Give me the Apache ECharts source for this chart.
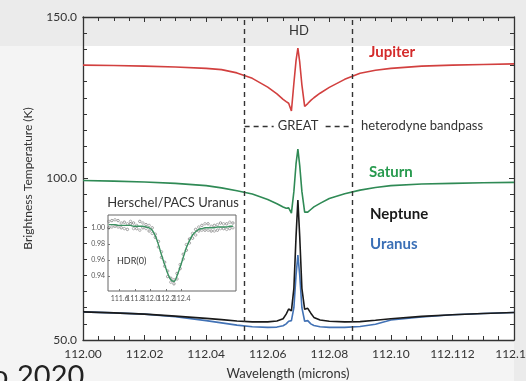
<!DOCTYPE html>
<html>
<head>
<meta charset="utf-8">
<script src="https://cdn.jsdelivr.net/npm/echarts@6/dist/echarts.min.js"></script>
<style>
  html, body { margin: 0; padding: 0; background: #f4f4f4; }
  #main { width: 526px; height: 381px; }
</style>
</head>
<body>
<div id="main"></div>
<script>
// wavelength grid (microns), shared by the four planet spectra
var wave = [112.000, 112.010, 112.020, 112.030, 112.040, 112.045, 112.050, 112.055, 112.060, 112.063,
  112.065, 112.0660, 112.0668, 112.0677, 112.0685, 112.0692, 112.0698, 112.0704, 112.0711, 112.0720,
  112.0730, 112.0740, 112.0750, 112.077, 112.080, 112.085, 112.090, 112.095, 112.100, 112.110,
  112.120, 112.130, 112.140];

var jupiter = [135.1, 135.0, 134.8, 134.5, 134.1, 133.7, 132.7, 131.0, 128.3, 126.2,
  124.5, 123.8, 123.3, 120.9, 129.5, 136.5, 140.4, 136.0, 129.0, 122.3,
  123.2, 124.2, 125.0, 126.4, 128.2, 130.7, 132.6, 133.5, 134.1, 134.8,
  135.1, 135.3, 135.5];

var saturn = [99.4, 99.2, 98.9, 98.5, 97.8, 97.1, 96.2, 95.2, 93.5, 92.2,
  91.2, 90.8, 90.9, 89.3, 96.0, 104.5, 109.1, 104.0, 96.0, 89.6,
  89.6, 90.4, 91.2, 92.3, 93.8, 95.3, 96.4, 97.2, 97.8, 98.3,
  98.5, 98.7, 98.8];

var neptune = [58.7, 58.4, 58.0, 57.4, 56.7, 56.3, 55.9, 55.6, 55.6, 55.9,
  56.6, 58.0, 59.6, 59.0, 66.0, 82.0, 93.3, 82.0, 66.0, 59.5,
  59.8, 58.3, 57.0, 56.2, 55.8, 55.6, 55.7, 56.1, 56.6, 57.3,
  57.8, 58.2, 58.5];

var uranus = [58.7, 58.4, 58.0, 57.2, 56.0, 55.3, 54.6, 54.1, 53.9, 54.0,
  54.4, 55.0, 55.8, 56.0, 60.0, 70.0, 76.3, 70.0, 60.0, 55.8,
  56.0, 55.0, 54.5, 54.1, 53.9, 53.9, 54.2, 54.9, 56.2, 57.1,
  57.8, 58.2, 58.5];

var xTickLabels = ['112.00', '112.02', '112.04', '112.06', '112.08', '112.10', '112.112', '112.14'];
var bandEdges = [112.0525, 112.0875];
var bandLevel = 116.3;

// inset: Herschel/PACS Uranus line-to-continuum ratio
var insetWave = [111.46, 111.50, 111.54, 111.58, 111.62, 111.66, 111.70, 111.74, 111.78, 111.82,
  111.86, 111.90, 111.94, 111.98, 112.02, 112.06, 112.10, 112.14, 112.18, 112.22,
  112.26, 112.30, 112.34, 112.38, 112.42, 112.46, 112.50, 112.54, 112.58, 112.62,
  112.66, 112.70, 112.74, 112.78, 112.82, 112.86, 112.90, 112.94, 112.98, 113.02, 113.06];
var insetFit = [1.004, 1.004, 1.004, 1.003, 1.003, 1.003, 1.003, 1.003, 1.002, 1.002,
  1.002, 1.002, 1.001, 1.000, 0.997, 0.990, 0.979, 0.966, 0.954, 0.943,
  0.935, 0.933, 0.940, 0.951, 0.963, 0.975, 0.984, 0.991, 0.995, 0.998,
  0.999, 1.000, 1.000, 1.000, 1.000, 1.001, 1.001, 1.001, 1.001, 1.002, 1.002];
var insetObsA = [1.008, 1.001, 1.010, 1.001, 1.006, 0.999, 1.005, 1.008, 0.999, 1.003,
  0.997, 1.006, 0.999, 1.003, 0.993, 0.992, 0.976, 0.970, 0.952, 0.946,
  0.932, 0.935, 0.936, 0.954, 0.961, 0.979, 0.981, 0.993, 0.991, 1.001,
  0.997, 1.005, 0.997, 1.002, 0.996, 1.004, 0.999, 1.005, 0.998, 1.007, 1.000];
var insetObsB = [1.000, 1.009, 1.002, 1.009, 1.000, 1.007, 0.998, 1.005, 1.006, 0.999,
  1.008, 1.000, 1.004, 0.996, 1.000, 0.988, 0.983, 0.963, 0.957, 0.939,
  0.937, 0.930, 0.943, 0.949, 0.967, 0.972, 0.986, 0.987, 0.998, 0.996,
  1.003, 0.997, 1.005, 0.996, 1.003, 0.997, 1.006, 0.999, 1.005, 0.999, 1.006];
var insetXTicks = [111.6, 111.8, 112.0, 112.2, 112.4];
var insetYTicks = [0.94, 0.96, 0.98, 1.00];

var FONT = 'Lato';
var NARROW = "'Liberation Sans Narrow', 'Arial Narrow', Lato";

function pairs(xs, ys) {
  return xs.map(function (x, i) { return [x, ys[i]]; });
}

var myChart = echarts.init(document.getElementById('main'));

var frameAxisX = {
  type: 'value', min: 112.00, max: 112.14, interval: 0.02, gridIndex: 0,
  axisLine: { show: true, lineStyle: { color: '#333', width: 1.3 } },
  axisTick: { show: true, inside: true, length: 5, lineStyle: { color: '#333' } },
  minorTick: { show: true, splitNumber: 4, length: 4, lineStyle: { color: '#333' } },
  splitLine: { show: false }
};
var frameAxisY = {
  type: 'value', min: 50, max: 150, interval: 50, gridIndex: 0,
  axisLine: { show: true, lineStyle: { color: '#333', width: 1.3 } },
  axisTick: { show: true, inside: true, length: 5, lineStyle: { color: '#333' } },
  minorTick: { show: true, splitNumber: 10, length: 4, lineStyle: { color: '#333' } },
  splitLine: { show: false }
};

function lineSeries(name, ys, color) {
  return {
    name: name, type: 'line', xAxisIndex: 0, yAxisIndex: 0,
    data: pairs(wave, ys), showSymbol: false, smooth: false,
    lineStyle: { color: color, width: 1.6 }
  };
}

var jupiterSeries = lineSeries('Jupiter', jupiter, '#d2403f');
jupiterSeries.markLine = {
  silent: true, symbol: 'none', precision: 4, label: { show: false },
  lineStyle: { color: '#333', width: 1.4, type: [5, 4] },
  data: [
    { xAxis: bandEdges[0] },
    { xAxis: bandEdges[1] },
    [{ coord: [bandEdges[0], bandLevel] }, { coord: [bandEdges[1], bandLevel] }]
  ]
};

var option = {
  animation: false,
  backgroundColor: '#f4f4f4',
  textStyle: { fontFamily: FONT },
  grid: [
    { left: 83, right: 12, top: 17, bottom: 41, show: false, outerBoundsMode: 'none', containLabel: false },
    { left: 108, top: 215, width: 128, height: 76, show: true, backgroundColor: '#fff', borderColor: '#666', borderWidth: 1, outerBoundsMode: 'none', containLabel: false }
  ],
  xAxis: [
    Object.assign({}, frameAxisX, {
      position: 'bottom',
      axisLabel: {
        show: true, color: '#333', fontSize: 12, fontFamily: FONT, margin: 8,
        formatter: function (v) {
          var i = Math.round((v - 112) / 0.02);
          return xTickLabels[i] || '';
        }
      }
    }),
    Object.assign({}, frameAxisX, { position: 'top', axisLabel: { show: false } }),
    {
      type: 'value', gridIndex: 1, min: 111.45, max: 113.10,
      axisLine: { show: false }, splitLine: { show: false },
      axisTick: { show: true, inside: true, length: 2, customValues: insetXTicks, lineStyle: { color: '#777' } },
      // labels drawn below as graphic text so none are auto-hidden
      axisLabel: { show: false }
    }
  ],
  yAxis: [
    Object.assign({}, frameAxisY, {
      position: 'left',
      name: 'Brightness Temperature (K)', nameLocation: 'middle', nameGap: 49,
      nameTextStyle: { color: '#333', fontSize: 12, fontFamily: FONT },
      axisLabel: {
        show: true, color: '#333', fontSize: 12, fontFamily: FONT, margin: 6,
        formatter: function (v) { return v.toFixed(1); }
      }
    }),
    Object.assign({}, frameAxisY, { position: 'right', axisLabel: { show: false } }),
    {
      type: 'value', gridIndex: 1, min: 0.921, max: 1.016,
      axisLine: { show: false }, splitLine: { show: false },
      axisTick: { show: true, inside: true, length: 2, customValues: insetYTicks, lineStyle: { color: '#777' } },
      axisLabel: {
        show: true, customValues: insetYTicks, color: '#555', fontSize: 7, fontFamily: NARROW, margin: 3,
        formatter: function (v) { return v.toFixed(2); }
      }
    }
  ],
  series: [
    lineSeries('Uranus', uranus, '#4272b5'),
    lineSeries('Neptune', neptune, '#1a1a1a'),
    lineSeries('Saturn', saturn, '#2f8a55'),
    jupiterSeries,
    {
      name: 'PACS A', type: 'scatter', xAxisIndex: 2, yAxisIndex: 2,
      data: pairs(insetWave, insetObsA), symbolSize: 2.5,
      itemStyle: { color: 'rgba(0,0,0,0)', borderColor: '#7a7a7a', borderWidth: 0.7 }
    },
    {
      name: 'PACS B', type: 'scatter', xAxisIndex: 2, yAxisIndex: 2,
      data: pairs(insetWave, insetObsB), symbolSize: 2.5,
      itemStyle: { color: 'rgba(0,0,0,0)', borderColor: '#5a5a5a', borderWidth: 0.7 }
    },
    {
      name: 'PACS fit', type: 'line', xAxisIndex: 2, yAxisIndex: 2,
      data: pairs(insetWave, insetFit), showSymbol: false, smooth: 0.3,
      lineStyle: { color: '#3a9060', width: 1.4 }
    }
  ],
  graphic: [
    { type: 'rect', z: -10, shape: { x: 0, y: 0, width: 526, height: 46 }, style: { fill: '#ebebeb' } },
    { type: 'rect', z: -10, shape: { x: 514, y: 46, width: 12, height: 335 }, style: { fill: '#ebebeb' } },
    { type: 'rect', z: -10, shape: { x: 83, y: 46, width: 431, height: 294 }, style: { fill: '#ffffff' } },
    { type: 'text', z: 100, x: 299, y: 31, style: { text: 'HD', fill: '#333', font: '13px ' + FONT, textAlign: 'center', textVerticalAlign: 'middle' } },
    { type: 'text', z: 100, x: 298, y: 126, style: { text: 'GREAT', fill: '#333', font: '13px ' + FONT, textAlign: 'center', textVerticalAlign: 'middle', backgroundColor: '#fff', padding: [1, 4] } },
    { type: 'text', z: 100, x: 359, y: 126, style: { text: 'heterodyne bandpass', fill: '#333', font: '13px ' + FONT, textAlign: 'left', textVerticalAlign: 'middle', backgroundColor: '#fff', padding: [1, 2] } },
    { type: 'text', z: 100, x: 369, y: 52, style: { text: 'Jupiter', fill: '#d42b2b', font: 'bold 15px ' + FONT, textAlign: 'left', textVerticalAlign: 'middle' } },
    { type: 'text', z: 100, x: 369, y: 172, style: { text: 'Saturn', fill: '#279a4e', font: 'bold 15px ' + FONT, textAlign: 'left', textVerticalAlign: 'middle' } },
    { type: 'text', z: 100, x: 370, y: 214, style: { text: 'Neptune', fill: '#1a1a1a', font: 'bold 15px ' + FONT, textAlign: 'left', textVerticalAlign: 'middle' } },
    { type: 'text', z: 100, x: 370, y: 244, style: { text: 'Uranus', fill: '#3a6fb6', font: 'bold 15px ' + FONT, textAlign: 'left', textVerticalAlign: 'middle' } },
    { type: 'text', z: 100, x: 173, y: 203, style: { text: 'Herschel/PACS Uranus', fill: '#333', font: '13px ' + FONT, textAlign: 'center', textVerticalAlign: 'middle' } },
    { type: 'text', z: 100, x: 117, y: 261, style: { text: 'HDR(0)', fill: '#333', font: '9px ' + FONT, textAlign: 'left', textVerticalAlign: 'middle' } },
    { type: 'text', z: 100, x: 288, y: 374, style: { text: 'Wavelength (microns)', fill: '#333', font: '13px ' + FONT, textAlign: 'center', textVerticalAlign: 'middle' } },
    { type: 'text', z: 100, x: -8, y: 362, style: { text: 'o', fill: '#222', font: '29px ' + FONT, textAlign: 'left', textVerticalAlign: 'top' } },
    { type: 'text', z: 100, x: 17, y: 362, style: { text: '2020', fill: '#222', font: '29px ' + FONT, textAlign: 'left', textVerticalAlign: 'top' } }
  ]
};

myChart.setOption(option);

// inset wavelength labels, placed at their tick positions on the inset axis
var insetLabels = insetXTicks.map(function (v, i) {
  var p = myChart.convertToPixel({ xAxisIndex: 2, yAxisIndex: 2 }, [v, 0.921]);
  return {
    id: 'insetx' + i, type: 'text', z: 100, x: p[0], y: p[1] + 4,
    style: { text: v.toFixed(1), fill: '#555', font: '7px ' + NARROW, textAlign: 'center', textVerticalAlign: 'top' }
  };
});
myChart.setOption({ graphic: option.graphic.concat(insetLabels) });
</script>
</body>
</html>
